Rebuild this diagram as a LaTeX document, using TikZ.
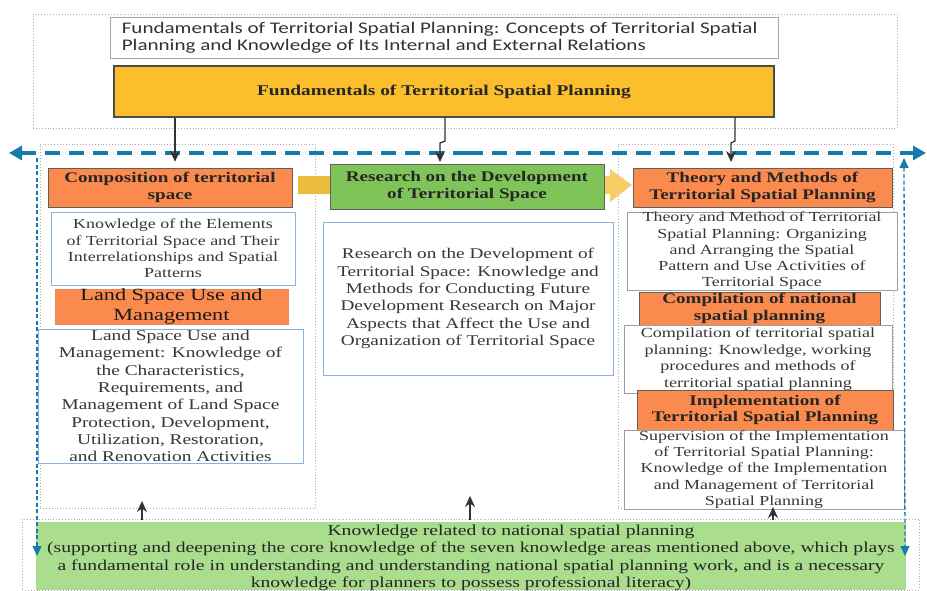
\documentclass[tikz,border=0pt]{standalone}
\usepackage{fontspec}
\setmainfont{Liberation Serif}[FakeStretch=1.3]
\newfontfamily\topfont{Carlito}[FakeStretch=1.3]
\usetikzlibrary{arrows.meta,calc}
\newcommand\fs[2]{\fontsize{#1}{#2}\selectfont}
\definecolor{hdrorange}{RGB}{251,138,78}
\definecolor{fundyellow}{RGB}{251,190,44}
\definecolor{resgreen}{RGB}{126,196,88}
\definecolor{botgreen}{RGB}{170,222,142}
\definecolor{flowblue}{RGB}{22,122,172}
\definecolor{descblue}{RGB}{140,175,228}
\definecolor{txtgray}{RGB}{55,55,55}
\definecolor{arrgoldL}{RGB}{234,188,62}
\definecolor{arrgoldR}{RGB}{246,206,104}
\begin{document}
\begin{tikzpicture}[x=1pt,y=-1pt,
  rect/.style args={#1/#2/#3/#4}{at={({(#1+#3)/2},{(#2+#4)/2})},minimum width={(#3-#1)*1pt},minimum height={(#4-#2)*1pt},inner sep=0pt},
  grp/.style={draw=gray!65,dotted,line width=0.9pt},
  hdr/.style={fill=hdrorange,draw=gray!75!black,line width=0.6pt,font=\bfseries\fs{14.7}{16.8},text=black!85,align=center},
  desc/.style={fill=white,draw=descblue,line width=0.8pt,align=center,text=txtgray},
  descg/.style={fill=white,draw=gray!75,line width=0.8pt,align=center,text=txtgray},
  conn/.style={draw=black!80,line width=1.3pt,-{Stealth[length=11pt,width=10pt]}},
  flow/.style={draw=flowblue,line width=3.2pt,dash pattern=on 15pt off 9pt},
  flowv/.style={draw=flowblue,line width=1.3pt,dash pattern=on 4pt off 2.5pt}
]
\useasboundingbox (0,0) rectangle (927,590);

% ---- top group ----
\node[grp,rect=33/14/897/128] (topgrp) {};
\node[draw=gray!70,fill=white,line width=0.8pt,rect=110/17/778/58] (topbox) {};
\node[anchor=west,inner sep=0pt,align=left,font=\topfont\fs{16.2}{17},text=black!80] (topdesc) at ([xshift=12pt]topbox.west)
  {Fundamentals of Territorial Spatial Planning: Concepts of Territorial Spatial\\Planning and Knowledge of Its Internal and External Relations};
\node[fill=fundyellow,draw=black!70,line width=1.2pt,rect=114/66/774/117,font=\bfseries\fs{14.9}{17},text=black!85] (fund)
  {Fundamentals of Territorial Spatial Planning};

% ---- column groups ----
\node[grp,rect=40/144/315/508] (leftgrp) {};
\node[grp,rect=618/144/893/508] (rightgrp) {};
\node[grp,rect=22/519/919/590] (botgrp) {};

% ---- block arrow (behind research box) ----
\coordinate (ba0) at (298,185);
\coordinate (ba1) at (632,185);
\shade[left color=arrgoldL,right color=arrgoldR]
  ($(ba0)+(0,-9)$) -- ($(ba1)+(-22,-9)$) -- ($(ba1)+(-22,-16)$) -- (ba1) -- ($(ba1)+(-22,17)$) -- ($(ba1)+(-22,9)$) -- ($(ba0)+(0,9)$) -- cycle;

% ---- left column ----
\node[hdr,rect=48/168/292/207] (comp) {Composition of territorial\\space};
\node[desc,rect=51/212/295/285,font=\fs{13.8}{16.4}] (compdesc)
  {Knowledge of the Elements\\of Territorial Space and Their\\Interrelationships and Spatial\\Patterns};
\node[fill=hdrorange,draw=hdrorange!90!gray,line width=0.5pt,rect=55/289/288/324,font=\fs{17.1}{19.5},text=black!90,align=center] (land)
  {Land Space Use and\\Management};
\node[desc,rect=38/329/303/463,font=\fs{14.9}{17.3}] (landdesc)
  {Land Space Use and\\Management: Knowledge of\\the Characteristics,\\Requirements, and\\Management of Land Space\\Protection, Development,\\Utilization, Restoration,\\and Renovation Activities};

% ---- middle column ----
\node[fill=resgreen,draw=gray!75!black,line width=0.6pt,rect=330/164/604/209,font=\bfseries\fs{14.7}{16.8},text=black!85,align=center] (research)
  {Research on the Development\\of Territorial Space};
\node[desc,rect=323/222/613/375,font=\fs{14.8}{17.4}] (resdesc)
  {Research on the Development of\\Territorial Space: Knowledge and\\Methods for Conducting Future\\Development Research on Major\\Aspects that Affect the Use and\\Organization of Territorial Space};

% ---- right column ----
\node[hdr,rect=633/168/892/207] (theory) {Theory and Methods of\\Territorial Spatial Planning};
\node[descg,rect=627/212/897/290,font=\fs{13.8}{16.2}] (theorydesc)
  {Theory and Method of Territorial\\Spatial Planning: Organizing\\and Arranging the Spatial\\Pattern and Use Activities of\\Territorial Space};
\node[hdr,rect=639/292/880/325] (compil) {Compilation of national\\spatial planning};
\node[descg,rect=624/325/892/393,font=\fs{13.9}{16.4}] (compildesc)
  {Compilation of territorial spatial\\planning: Knowledge, working\\procedures and methods of\\territorial spatial planning};
\node[hdr,rect=637/390/893/430] (impl) {Implementation of\\Territorial Spatial Planning};
\node[descg,rect=624/430/904/509,font=\fs{13.8}{16.2}] (impldesc)
  {Supervision of the Implementation\\of Territorial Spatial Planning:\\Knowledge of the Implementation\\and Management of Territorial\\Spatial Planning};

% ---- bottom ----
\node[fill=botgreen,rect=36/522/906/590] (bottom) {};
\node[font=\fs{15.1}{17.4},text=black!85,align=center,inner sep=0pt] (bottomtext) at ([yshift=-2pt]bottom.center)
  {\hspace*{80pt}Knowledge related to national spatial planning\\(supporting and deepening the core knowledge of the seven knowledge areas mentioned above, which plays\\a fundamental role in understanding and understanding national spatial planning work, and is a necessary\\knowledge for planners to possess professional literacy)};

% ---- blue flow lines ----
\coordinate (fl) at (9,153);
\coordinate (fr) at (926,153);
\draw[flow,-{Triangle[length=13pt,width=14pt]}] (468,153) -- (fl);
\draw[flow,-{Triangle[length=13pt,width=14pt]}] (468,153) -- (fr);
\coordinate (vl0) at (37,158);
\coordinate (vl1) at (37,556);
\draw[flowv,-{Triangle[length=10pt,width=9pt]}] (vl0) -- (vl1);
\coordinate (vr0) at (904,158);
\coordinate (vr1) at (905,556);
\draw[flowv,{Triangle[length=10pt,width=9pt]}-{Triangle[length=10pt,width=9pt]}] (vr0) -- (vr1);

% ---- connectors from fundamentals ----
\draw[conn,shorten >=6pt] (fund.south -| comp.north) ++(5,0) coordinate (c1) -- (c1 |- comp.north);
\draw[conn,shorten >=6pt] (445,117) -- (445,141) -- (440,143) -- (440,168);
\draw[conn,shorten >=6pt] (735,117) -- (735,141) -- (731,143) -- (731,168);

% ---- connectors from bottom ----
\draw[conn] (142,520) -- (142,501);
\draw[conn] (470,520) -- (470,496);
\draw[conn] (773,520) -- (773,507);
\end{tikzpicture}
\end{document}
